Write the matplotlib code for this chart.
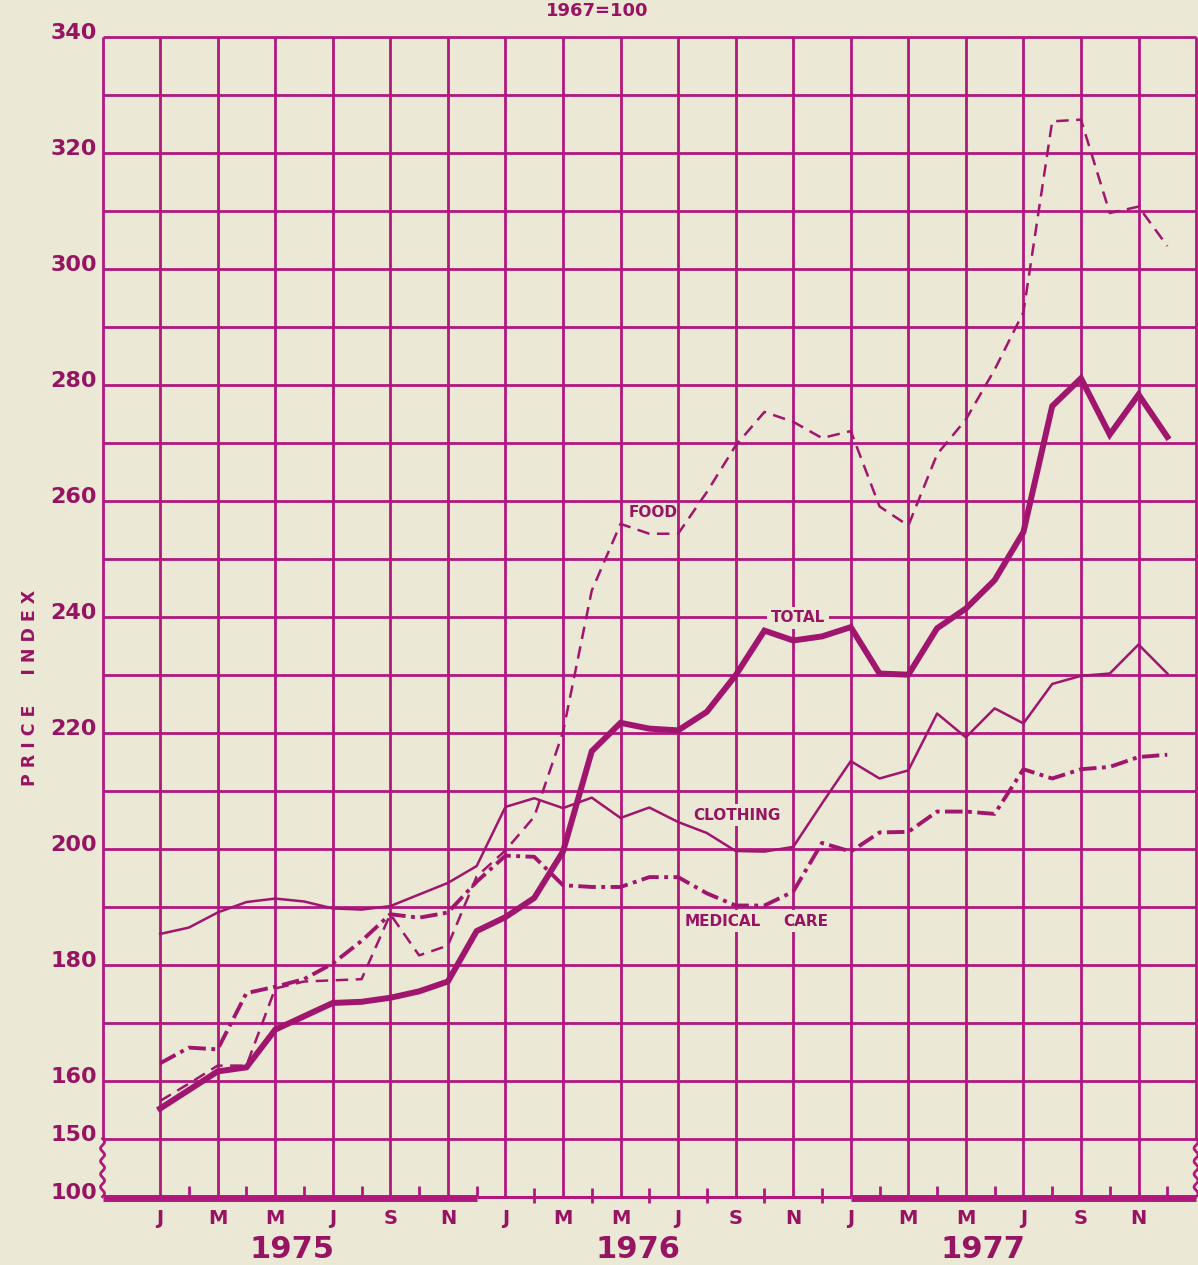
import numpy as np
import matplotlib
matplotlib.use("Agg")
import matplotlib.pyplot as plt
import matplotlib.transforms as mtransforms

# Consumer price indexes, monthly Jan 1975 .. Dec 1977 (1967 = 100)
months = np.arange(36)

total = [155.2, 158.4, 161.6, 162.3, 168.8, 171.1, 173.4, 173.6, 174.3, 175.4, 177.1, 185.8,
         188.2, 191.5, 199.5, 216.8, 221.7, 220.7, 220.4, 223.6, 229.9, 237.6, 235.9, 236.6,
         238.2, 230.2, 230.0, 238.0, 241.4, 246.3, 254.6, 276.3, 281.1, 271.4, 278.3, 271.0]

food = [156.5, 159.5, 162.6, 162.6, 175.9, 177.1, 177.3, 177.5, 188.7, 181.6, 183.3, 195.2,
        199.7, 205.5, 220.1, 244.5, 256.0, 254.3, 254.3, 261.5, 269.5, 275.3, 273.6, 270.8,
        272.0, 259.0, 255.7, 268.0, 274.0, 282.6, 292.5, 325.4, 325.7, 309.6, 310.7, 303.9]

clothing = [185.3, 186.4, 189.0, 190.8, 191.4, 190.9, 189.7, 189.5, 190.1, 192.1, 194.1, 197.0,
            207.2, 208.7, 207.0, 208.8, 205.3, 207.1, 204.6, 202.7, 199.6, 199.5, 200.3, 207.8,
            215.1, 212.1, 213.5, 223.3, 219.2, 224.2, 221.6, 228.4, 229.8, 230.2, 235.2, 230.2]

medical = [163.0, 165.7, 165.4, 175.1, 176.2, 177.5, 180.2, 184.1, 188.7, 188.1, 189.0, 194.3,
           198.8, 198.6, 193.7, 193.4, 193.4, 195.1, 195.1, 192.3, 190.2, 190.2, 192.6, 201.0,
           199.5, 202.8, 202.9, 206.4, 206.4, 206.0, 213.7, 212.1, 213.7, 214.1, 215.8, 216.2]

month_letters = ["J", "M", "M", "J", "S", "N"]
years = ["1975", "1976", "1977"]
# the bottom rule stands for 100 (broken scale between 100 and 150)
y_tick_values = [140, 150, 160, 180, 200, 220, 240, 260, 280, 300, 320, 340]
y_tick_labels = ["100", "150", "160", "180", "200", "220", "240", "260", "280", "300", "320", "340"]

BG = "#ECE8D6"
GRID = "#B0187E"
INK = "#A0166E"
TXT = "#971463"

plt.rcParams["font.family"] = ["DejaVu Sans"]

fig = plt.figure(figsize=(11.98, 12.65), dpi=100, facecolor=BG)
ax = fig.add_axes([0.0856, 0.0540, 0.9128, 0.9170])
ax.set_facecolor(BG)
ax.set_xlim(-2, 36)
ax.set_ylim(140, 340)
for s in ax.spines.values():
    s.set_visible(False)

glw = 2.0
# horizontal rules every 10 points from 150 upward
for yv in range(150, 341, 10):
    ax.hlines(yv, -2, 36, color=GRID, lw=glw, zorder=1, clip_on=False)
# vertical rules every other month
for xv in range(0, 35, 2):
    ax.vlines(xv, 140, 340, color=GRID, lw=glw, zorder=1)
# outer edges, straight above 150 and wavy across the scale break
tw = np.linspace(140, 150, 300)
for xv in (-2, 36):
    ax.vlines(xv, 150, 340, color=GRID, lw=glw, zorder=1, clip_on=False)
    ax.plot(xv + 0.07 * np.sin((tw - 140) / 10 * 2 * np.pi * 4.5), tw,
            color=GRID, lw=glw, zorder=1, clip_on=False)

# bottom rule: heavy under 1975 and 1977, light under 1976
ax.hlines(139.8, -2, 11, color=GRID, lw=5, zorder=2, clip_on=False)
ax.hlines(140, 11, 24, color=GRID, lw=2.2, zorder=2, clip_on=False)
ax.hlines(139.8, 24, 36, color=GRID, lw=5, zorder=2, clip_on=False)
for m in range(1, 12, 2):
    ax.vlines(m, 140, 141.8, color=GRID, lw=2, zorder=2)
for m in range(13, 24, 2):
    ax.vlines(m, 138.9, 141.5, color=GRID, lw=2, zorder=2, clip_on=False)
for m in range(25, 36, 2):
    ax.vlines(m, 140, 141.8, color=GRID, lw=2, zorder=2)

# axis labels
ax.set_xticks(range(0, 35, 2))
ax.set_xticklabels(month_letters * 3, fontsize=14, fontweight="bold", color=TXT)
ax.tick_params(axis="x", length=0, pad=9)
ax.set_yticks(y_tick_values)
ax.set_yticklabels(y_tick_labels, fontsize=16, fontweight="bold", color=TXT)
ax.tick_params(axis="y", length=0, pad=4)
shift = mtransforms.ScaledTranslation(0, 4 / 72, fig.dpi_scale_trans)
for lab in ax.get_yticklabels():
    lab.set_transform(lab.get_transform() + shift)

for yr, xc in zip(years, [4.6, 16.6, 28.6]):
    ax.annotate(yr, xy=(xc, 0), xycoords=("data", "axes fraction"),
                xytext=(0, -38), textcoords="offset points",
                ha="center", va="center", fontsize=22, fontweight="bold", color=TXT)

fig.text(30 / 1198, 1 - 688 / 1265, "P R I C E     I N D E X", rotation=90,
         ha="center", va="center", fontsize=12.5, fontweight="bold", color=TXT)
fig.text(597 / 1198, 1 - 2 / 1265, "1967=100", ha="center", va="top",
         fontsize=13, fontweight="bold", color=TXT)

# series
ax.plot(months, total, color=INK, lw=4.3, zorder=4, solid_joinstyle="miter")
ax.plot(months, clothing, color=INK, lw=1.8, zorder=4)
ax.plot(months, food, color=INK, lw=1.8, dashes=(5, 3), zorder=4)
ax.plot(months, medical, color=INK, lw=2.8, dashes=(4.5, 1.4, 1.0, 1.4), zorder=4)

# series names
box = dict(facecolor=BG, edgecolor="none", pad=2.5)
ax.text(17.13, 258.0, "FOOD", ha="center", va="center", fontsize=11,
        fontweight="bold", color=TXT, zorder=3)
ax.text(22.17, 239.8, "TOTAL", ha="center", va="center", fontsize=11,
        fontweight="bold", color=TXT, zorder=3, bbox=box)
ax.text(20.05, 205.8, "CLOTHING", ha="center", va="center", fontsize=11,
        fontweight="bold", color=TXT, zorder=3, bbox=box)
ax.text(19.56, 187.5, "MEDICAL", ha="center", va="center", fontsize=11,
        fontweight="bold", color=TXT, zorder=3, bbox=box)
ax.text(22.45, 187.5, "CARE", ha="center", va="center", fontsize=11,
        fontweight="bold", color=TXT, zorder=3, bbox=box)

fig.savefig("out.png", dpi=100, facecolor=BG)
